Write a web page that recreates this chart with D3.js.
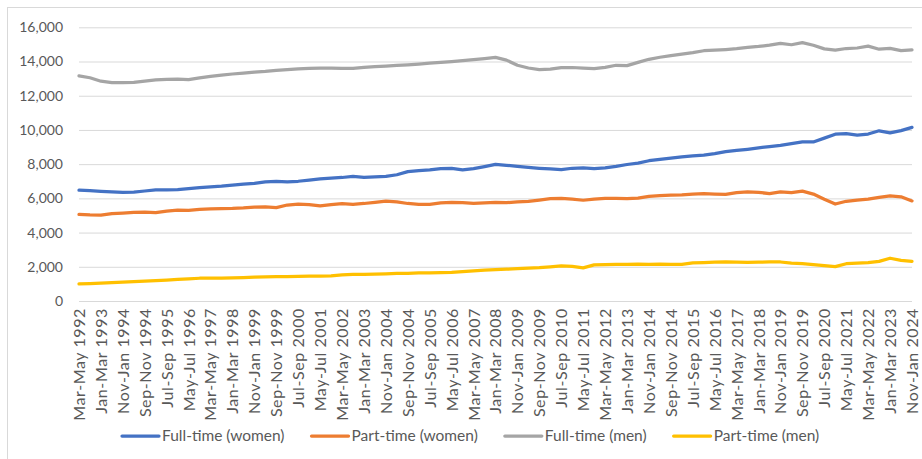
<!DOCTYPE html>
<html>
<head>
<meta charset="utf-8">
<script src="https://cdn.jsdelivr.net/npm/d3@7/dist/d3.min.js"></script>
<style>
  html, body { margin: 0; padding: 0; background: #fff; }
  svg { display: block; font-family: Lato, "Open Sans", sans-serif; }
</style>
</head>
<body>
<svg id="chart" width="922" height="459"></svg>
<script>
// Rolling three-month periods, Mar-May 1992 to Nov-Jan 2024
const monthNames = ["Jan","Feb","Mar","Apr","May","Jun","Jul","Aug","Sep","Oct","Nov","Dec"];
const periods = [];
for (let i = 0; i < 381; i++) {
  const start = 2 + i, end = start + 2;
  periods.push(monthNames[start % 12] + "-" + monthNames[end % 12] + " " + (1992 + Math.floor(end / 12)));
}
// Values are recorded for every fifth period
const samplePeriods = periods.filter((p, i) => i % 5 === 0);
// Axis labels: every tenth period
const tickLabels = periods.filter((p, i) => i % 10 === 0);
const yTicks = [0, 2000, 4000, 6000, 8000, 10000, 12000, 14000, 16000];

const seriesNames = ["Full-time (women)", "Part-time (women)", "Full-time (men)", "Part-time (men)"];
const seriesColors = ["#4472C4", "#ED7D31", "#A5A5A5", "#FFC000"];

// Thousands of people
const fullTimeWomen = [
  6480,6450,6410,6380,6350,6370,6430,6500,6500,6510,
  6570,6630,6670,6710,6770,6830,6880,6960,7000,6960,
  7000,7070,7140,7190,7220,7280,7230,7250,7280,7380,
  7560,7620,7660,7740,7750,7660,7740,7860,7990,7930,
  7870,7810,7760,7720,7680,7760,7780,7740,7780,7870,
  7980,8060,8200,8280,8350,8430,8490,8530,8620,8730,
  8800,8870,8950,9030,9100,9200,9300,9300,9520,9750,
  9780,9700,9760,9950,9830,9960,10150
];
const partTimeWomen = [
  5060,5030,5020,5110,5140,5180,5200,5170,5260,5310,
  5300,5360,5380,5400,5410,5440,5490,5500,5460,5610,
  5660,5640,5560,5630,5690,5650,5700,5770,5840,5790,
  5700,5650,5650,5740,5760,5750,5710,5740,5770,5750,
  5790,5830,5900,5980,6000,5950,5890,5960,6000,6000,
  5990,6020,6120,6160,6190,6210,6250,6270,6250,6230,
  6330,6380,6350,6280,6380,6340,6420,6250,5950,5670,
  5830,5900,5950,6060,6150,6090,5850
];
const fullTimeMen = [
  13160,13050,12850,12760,12760,12780,12860,12920,12960,12970,
  12940,13040,13130,13200,13270,13320,13380,13420,13480,13530,
  13570,13600,13620,13610,13600,13600,13660,13700,13730,13770,
  13810,13850,13900,13950,14000,14050,14110,14170,14240,14080,
  13780,13620,13530,13560,13640,13650,13620,13580,13660,13780,
  13760,13950,14130,14250,14340,14430,14520,14630,14660,14700,
  14750,14820,14880,14960,15060,14980,15100,14950,14740,14660,
  14760,14790,14900,14720,14770,14640,14680
];
const partTimeMen = [
  1000,1020,1050,1080,1100,1130,1160,1190,1220,1260,
  1300,1330,1340,1340,1350,1370,1390,1410,1420,1430,
  1440,1450,1460,1470,1530,1560,1560,1570,1590,1610,
  1620,1640,1650,1660,1680,1720,1760,1800,1830,1860,
  1890,1920,1950,2000,2050,2030,1940,2110,2130,2140,
  2140,2150,2140,2150,2140,2140,2230,2250,2270,2280,
  2270,2260,2270,2280,2280,2210,2180,2130,2070,2010,
  2180,2210,2240,2320,2500,2380,2320
];
const seriesValues = [fullTimeWomen, partTimeWomen, fullTimeMen, partTimeMen];

const svg = d3.select("#chart");
const plot = { left: 79, right: 912, top: 27.3, bottom: 301 };
const textColor = "#595959";
const gridColor = "#D9D9D9";
const fontFamily = "Lato, 'Open Sans', sans-serif";

// Chart area frame
svg.append("rect")
  .attr("x", 7.5).attr("y", 7.5)
  .attr("width", 1000).attr("height", 1000)
  .attr("fill", "none").attr("stroke", gridColor).attr("stroke-width", 1);

const x = d3.scalePoint().domain(periods).range([plot.left, plot.right]);
const y = d3.scaleLinear().domain([0, 16000]).range([plot.bottom, plot.top]);

// Value axis with gridlines
const yAxis = svg.append("g")
  .attr("transform", `translate(${plot.left},0)`)
  .call(d3.axisLeft(y).tickValues(yTicks).tickFormat(d3.format(","))
    .tickSize(-(plot.right - plot.left)).tickPadding(16));
yAxis.select(".domain").remove();
yAxis.selectAll(".tick line").attr("stroke", gridColor).attr("stroke-width", 1);
yAxis.selectAll(".tick text")
  .attr("fill", textColor).attr("font-size", 14).attr("font-family", fontFamily);

// Category axis with rotated labels
const xAxis = svg.append("g")
  .attr("transform", `translate(0,${plot.bottom})`)
  .call(d3.axisBottom(x).tickValues(tickLabels).tickSize(0));
xAxis.select(".domain").remove();
xAxis.selectAll(".tick text")
  .attr("fill", textColor).attr("font-size", 16).attr("font-family", fontFamily)
  .attr("letter-spacing", "0.6px")
  .attr("text-anchor", "end")
  .attr("transform", "rotate(-90)")
  .attr("x", -7).attr("y", 0).attr("dy", "0.34em");

// Series lines
const line = d3.line()
  .x((d, i) => x(samplePeriods[i]))
  .y(d => y(d));
svg.append("g").selectAll("path")
  .data(seriesValues)
  .join("path")
  .attr("d", line)
  .attr("fill", "none")
  .attr("stroke", (d, i) => seriesColors[i])
  .attr("stroke-width", 3.25)
  .attr("stroke-linejoin", "round")
  .attr("stroke-linecap", "round");

// Legend
const legend = svg.append("g").attr("transform", "translate(122,436)");
let lx = 0;
seriesNames.forEach((name, i) => {
  const item = legend.append("g").attr("transform", `translate(${lx},0)`);
  item.append("line")
    .attr("x1", 0).attr("x2", 37).attr("y1", 0).attr("y2", 0)
    .attr("stroke", seriesColors[i]).attr("stroke-width", 3.25).attr("stroke-linecap", "round");
  const t = item.append("text")
    .attr("x", 40).attr("y", 0).attr("dy", "0.35em")
    .attr("fill", textColor).attr("font-size", 15.5).attr("font-family", fontFamily)
    .text(name);
  lx += 40 + t.node().getComputedTextLength() + 27;
});
</script>
</body>
</html>
